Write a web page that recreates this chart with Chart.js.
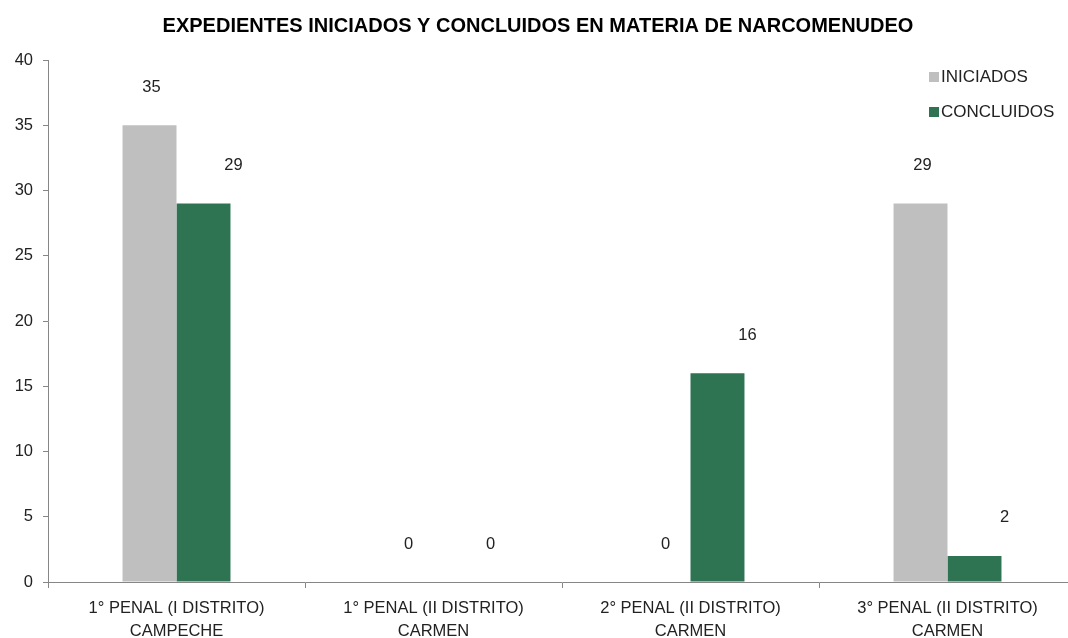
<!DOCTYPE html>
<html>
<head>
<meta charset="utf-8">
<script src="https://cdn.jsdelivr.net/npm/chart.js@4/dist/chart.umd.min.js"></script>
<style>
  html, body { margin: 0; padding: 0; background: #fff; overflow: hidden; }
</style>
</head>
<body>
<canvas id="grafica" width="1076" height="638"></canvas>
<script>
// datos de la gráfica
var categorias = [
    ['1° PENAL (I DISTRITO)', 'CAMPECHE'],
    ['1° PENAL (II DISTRITO)', 'CARMEN'],
    ['2° PENAL (II DISTRITO)', 'CARMEN'],
    ['3° PENAL (II DISTRITO)', 'CARMEN']
];
var iniciados = [35, 0, 0, 29];
var concluidos = [29, 0, 16, 2];
var ticksY = [0, 5, 10, 15, 20, 25, 30, 35, 40];

var fuente = "'Liberation Sans', Arial, sans-serif";
var colorEje = '#868686';

// etiquetas de valor encima de cada barra
var etiquetas = {
    id: 'etiquetas',
    afterDatasetsDraw: function (chart) {
        var ctx = chart.ctx;
        ctx.save();
        ctx.font = '16.5px ' + fuente;
        ctx.fillStyle = '#222';
        ctx.textAlign = 'center';
        ctx.textBaseline = 'middle';
        chart.data.datasets.forEach(function (ds, i) {
            var meta = chart.getDatasetMeta(i);
            var desplaza = i === 0 ? 2 : 30;
            meta.data.forEach(function (barra, j) {
                ctx.fillText(String(ds.data[j]), barra.x + desplaza, barra.y - 38);
            });
        });
        ctx.restore();
    }
};

// leyenda vertical dentro del área de la gráfica
var leyenda = {
    id: 'leyenda',
    afterDraw: function (chart) {
        var ctx = chart.ctx;
        var x = chart.chartArea.right - 147;
        var y = 77;
        ctx.save();
        ctx.font = '17px ' + fuente;
        ctx.textBaseline = 'middle';
        ctx.textAlign = 'left';
        chart.data.datasets.forEach(function (ds) {
            ctx.fillStyle = ds.backgroundColor;
            ctx.fillRect(x, y - 5, 10, 10);
            ctx.fillStyle = '#222';
            ctx.fillText(ds.label, x + 12, y);
            y += 35;
        });
        ctx.restore();
    }
};

var ctx = document.getElementById('grafica');

var grafica = new Chart(ctx, {
    type: 'bar',
    data: {
        labels: categorias,
        datasets: [{
            label: 'INICIADOS',
            data: iniciados,
            backgroundColor: '#BFBFBF'
        }, {
            label: 'CONCLUIDOS',
            data: concluidos,
            backgroundColor: '#2E7452'
        }]
    },
    options: {
        responsive: false,
        maintainAspectRatio: false,
        animation: false,
        layout: { padding: { left: 0, right: 0, top: 0, bottom: 0 } },
        plugins: {
            legend: { display: false },
            tooltip: { enabled: false },
            title: {
                display: true,
                text: 'EXPEDIENTES INICIADOS Y CONCLUIDOS EN MATERIA DE NARCOMENUDEO',
                color: '#000',
                font: { family: fuente, size: 20, weight: 'bold' },
                padding: { top: 14, bottom: 22 }
            }
        },
        datasets: {
            bar: { barPercentage: 1, categoryPercentage: 0.42 }
        },
        scales: {
            x: {
                grid: {
                    display: true,
                    drawOnChartArea: false,
                    drawTicks: true,
                    tickLength: 6,
                    color: colorEje
                },
                border: { display: true, color: colorEje, width: 1 },
                ticks: {
                    color: '#222',
                    font: { family: fuente, size: 16.5, lineHeight: 1.4 },
                    padding: 9,
                    maxRotation: 0,
                    autoSkip: false
                },
                afterFit: function (eje) { eje.height = 56; }
            },
            y: {
                min: 0,
                max: 40,
                afterBuildTicks: function (eje) {
                    eje.ticks = ticksY.map(function (v) { return { value: v }; });
                },
                grid: {
                    display: true,
                    drawOnChartArea: false,
                    drawTicks: true,
                    tickLength: 5,
                    color: colorEje
                },
                border: { display: true, color: colorEje, width: 1 },
                ticks: {
                    color: '#222',
                    font: { family: fuente, size: 16.5 },
                    padding: 10
                },
                afterFit: function (eje) { eje.width = 48; }
            }
        }
    },
    plugins: [etiquetas, leyenda]
});
</script>
</body>
</html>
